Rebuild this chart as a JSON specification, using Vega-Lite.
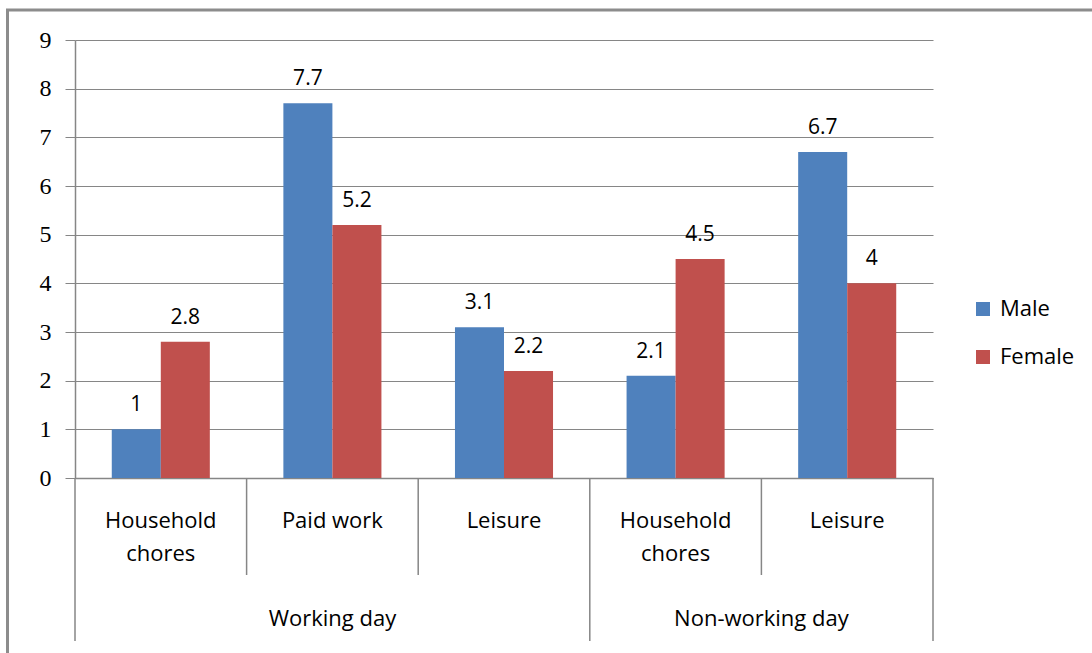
{
  "$schema": "https://vega.github.io/schema/vega-lite/v6.json",
  "width": 858,
  "height": 438,
  "autosize": {"type": "none"},
  "padding": {"left": 75, "top": 40, "right": 159, "bottom": 175},
  "background": "white",
  "config": {
    "view": {"stroke": null},
    "font": "Open Sans",
    "text": {"font": "Open Sans", "color": "black"}
  },
  "datasets": {
    "bars": [
      {"key": "WD-HC", "series": "Male", "value": 1},
      {"key": "WD-HC", "series": "Female", "value": 2.8},
      {"key": "WD-PW", "series": "Male", "value": 7.7},
      {"key": "WD-PW", "series": "Female", "value": 5.2},
      {"key": "WD-L", "series": "Male", "value": 3.1},
      {"key": "WD-L", "series": "Female", "value": 2.2},
      {"key": "NW-HC", "series": "Male", "value": 2.1},
      {"key": "NW-HC", "series": "Female", "value": 4.5},
      {"key": "NW-L", "series": "Male", "value": 6.7},
      {"key": "NW-L", "series": "Female", "value": 4}
    ],
    "cats": [
      {"key": "WD-HC", "label": "Household\nchores", "group": "Working day", "sep": "long"},
      {"key": "WD-PW", "label": "Paid work", "group": "Working day", "sep": "short"},
      {"key": "WD-L", "label": "Leisure", "group": "Working day", "sep": "short"},
      {"key": "NW-HC", "label": "Household\nchores", "group": "Non-working day", "sep": "long"},
      {"key": "NW-L", "label": "Leisure", "group": "Non-working day", "sep": "short"}
    ],
    "groups": [
      {"group": "Working day", "anchor": "WD-PW", "pos": "center"},
      {"group": "Non-working day", "anchor": "NW-L", "pos": "start"}
    ],
    "frame": [{"name": "frame"}]
  },
  "layer": [
    {
      "layer": [
        {
          "data": {"name": "bars"},
          "mark": {"type": "bar"},
          "encoding": {
            "x": {
              "field": "key", "type": "nominal",
              "scale": {"domain": ["WD-HC", "WD-PW", "WD-L", "NW-HC", "NW-L"], "paddingInner": 0, "paddingOuter": 0},
              "axis": {"labels": false, "ticks": false, "title": null, "grid": false, "domainColor": "#868686", "domainWidth": 1.5}
            },
            "xOffset": {
              "field": "series", "type": "nominal",
              "scale": {"domain": ["Male", "Female"], "paddingInner": 0, "paddingOuter": 0.75}
            },
            "y": {
              "field": "value", "type": "quantitative",
              "scale": {"domain": [0, 9], "nice": false, "zero": true},
              "axis": {
                "values": [0, 1, 2, 3, 4, 5, 6, 7, 8, 9],
                "title": null,
                "labelFont": "Liberation Serif",
                "labelFontSize": 24,
                "labelColor": "black",
                "labelPadding": 14,
                "tickSize": 10,
                "tickColor": "#868686",
                "domainColor": "#868686",
                "domainWidth": 1.5,
                "gridColor": "#868686",
                "gridWidth": 1,
                "grid": true
              }
            },
            "color": {
              "field": "series", "type": "nominal",
              "scale": {"domain": ["Male", "Female"], "range": ["#4F81BD", "#C0504D"]},
              "legend": {
                "title": null,
                "orient": "none",
                "legendX": 897,
                "legendY": 258,
                "padding": 0,
                "symbolType": "square",
                "symbolSize": 196,
                "symbolStrokeWidth": 0,
                "labelFont": "Open Sans",
                "labelFontSize": 22,
                "labelColor": "black",
                "labelOffset": 6,
                "rowPadding": 26
              }
            }
          }
        },
        {
          "data": {"name": "bars"},
          "mark": {"type": "text", "fontSize": 21, "baseline": "alphabetic", "dy": -18, "align": "center"},
          "encoding": {
            "x": {"field": "key", "type": "nominal"},
            "xOffset": {"field": "series", "type": "nominal"},
            "y": {"field": "value", "type": "quantitative"},
            "text": {"field": "value", "type": "quantitative", "format": "~g"}
          }
        },
        {
          "data": {"name": "cats"},
          "mark": {"type": "text", "fontSize": 22, "baseline": "alphabetic", "align": "center", "lineBreak": "\n", "lineHeight": 33},
          "encoding": {
            "x": {"field": "key", "type": "nominal"},
            "y": {"datum": -1.027, "type": "quantitative"},
            "text": {"field": "label"}
          }
        },
        {
          "data": {"name": "cats"},
          "transform": [{"filter": "datum.sep === 'short'"}],
          "mark": {"type": "rule", "color": "#868686", "strokeWidth": 1.5},
          "encoding": {
            "x": {"field": "key", "type": "nominal", "bandPosition": 0},
            "y": {"datum": 0, "type": "quantitative"},
            "y2": {"datum": -1.993}
          }
        },
        {
          "data": {"name": "cats"},
          "transform": [{"filter": "datum.sep === 'long'"}],
          "mark": {"type": "rule", "color": "#868686", "strokeWidth": 1.5},
          "encoding": {
            "x": {"field": "key", "type": "nominal", "bandPosition": 0},
            "y": {"datum": 0, "type": "quantitative"},
            "y2": {"datum": -3.35}
          }
        },
        {
          "data": {"name": "cats"},
          "transform": [{"filter": "datum.key === 'NW-L'"}],
          "mark": {"type": "rule", "color": "#868686", "strokeWidth": 1.5},
          "encoding": {
            "x": {"field": "key", "type": "nominal", "bandPosition": 1},
            "y": {"datum": 0, "type": "quantitative"},
            "y2": {"datum": -3.35}
          }
        },
        {
          "data": {"name": "groups"},
          "transform": [{"filter": "datum.pos === 'center'"}],
          "mark": {"type": "text", "fontSize": 22, "baseline": "alphabetic", "align": "center"},
          "encoding": {
            "x": {"field": "anchor", "type": "nominal", "bandPosition": 0.5},
            "y": {"datum": -3.041, "type": "quantitative"},
            "text": {"field": "group"}
          }
        },
        {
          "data": {"name": "groups"},
          "transform": [{"filter": "datum.pos === 'start'"}],
          "mark": {"type": "text", "fontSize": 22, "baseline": "alphabetic", "align": "center"},
          "encoding": {
            "x": {"field": "anchor", "type": "nominal", "bandPosition": 0},
            "y": {"datum": -3.041, "type": "quantitative"},
            "text": {"field": "group"}
          }
        }
      ]
    },
    {
      "data": {"name": "frame"},
      "mark": {"type": "rect", "fill": null, "stroke": "#8c8c8c", "strokeWidth": 3},
      "encoding": {
        "x": {"datum": -67.5, "type": "quantitative", "scale": {"domain": [0, 858]}, "axis": null},
        "x2": {"datum": 1100},
        "y": {"datum": 9.616, "type": "quantitative"},
        "y2": {"datum": -4}
      }
    }
  ],
  "resolve": {"scale": {"x": "independent"}}
}
